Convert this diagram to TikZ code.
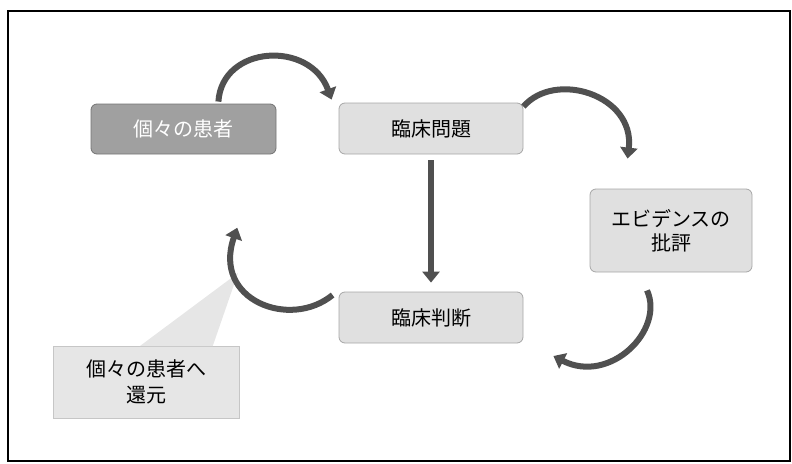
\documentclass[tikz,border=0pt]{standalone}
\usepackage{fontspec}
\setmainfont{Noto Sans CJK JP}
\usetikzlibrary{arrows.meta,calc}
\definecolor{boxlight}{RGB}{224,224,224}
\definecolor{boxdark}{RGB}{160,160,160}
\definecolor{arrowgray}{RGB}{80,80,80}
\definecolor{calloutfill}{RGB}{230,230,230}
\tikzset{
  stepbox/.style={draw=gray!70, line width=0.8pt, fill=boxlight, rounded corners=6pt,
    font=\fontsize{20}{24}\selectfont, text=black, align=center, inner sep=0pt},
  darkbox/.style={stepbox, fill=boxdark, draw=gray!90!black, text=white},
  calloutbox/.style={fill=calloutfill, draw=gray!45, line width=0.6pt,
    font=\fontsize{20}{26}\selectfont, align=center, inner sep=0pt},
  bigarrow/.style={draw=arrowgray, line width=6pt, -{Triangle[length=11pt,width=17pt]}}
}
\begin{document}
\begin{tikzpicture}[x=1pt,y=-1pt]
\useasboundingbox (0,0) rectangle (792,463);
\draw[line width=1.6pt] (8,11) rectangle (790,461);

\node[darkbox, minimum width=185pt, minimum height=50pt] (patient) at (183.5,129) {個々の患者};
\node[stepbox, minimum width=184pt, minimum height=51pt] (problem) at (431,128.5) {臨床問題};
\node[stepbox, minimum width=162pt, minimum height=83pt] (evidence) at (671,230.5) {エビデンスの\\批評};
\node[stepbox, minimum width=184pt, minimum height=51pt] (judgment) at (431,317.5) {臨床判断};

% callout
\coordinate (tip) at (238,273);
\node[calloutbox, minimum width=186pt, minimum height=72pt] (ret) at (146,382) {個々の患者へ\\還元};
\fill[calloutfill] ($(ret.north west)+(87,0.5)$) -- (tip) -- ($(ret.north west)+(160,0.5)$) -- cycle;

% arrows
\draw[bigarrow] ($(patient.north east)+(-58,-2)$) .. controls (222,45) and (310,40) .. ($(problem.north west)+(-7,-3)$);
\draw[bigarrow] ($(problem.north east)+(0,4)$) .. controls (555,70) and (635,95) .. ($(evidence.north west)+(38,-30)$);
\draw[bigarrow] ($(problem.south)+(0,6)$) -- ($(judgment.north)+(0,-9)$);
\draw[bigarrow] ($(evidence.south)+(-24,18)$) .. controls (665,330) and (610,385) .. ($(judgment.east)+(30,38.5)$);
\draw[bigarrow] ($(judgment.west)+(-6,-22.5)$) .. controls (290,330) and (212,300) .. ($(ret.north east)+(-2,-118)$);
\end{tikzpicture}
\end{document}
